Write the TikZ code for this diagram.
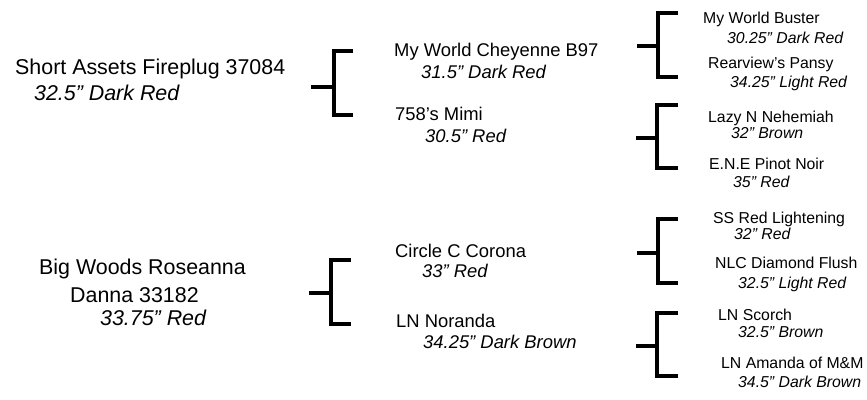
\documentclass[tikz,border=0pt]{standalone}
\usepackage{fontspec}
\setmainfont{Liberation Sans}
\begin{document}
\begin{tikzpicture}[x=1pt,y=-1pt,
  g0/.style={anchor=base west,inner sep=0pt,font=\fontsize{21.4}{26}\selectfont},
  g1/.style={anchor=base west,inner sep=0pt,font=\fontsize{18.4}{22}\selectfont},
  g2/.style={anchor=base west,inner sep=0pt,font=\fontsize{15.8}{19}\selectfont},
  br/.style={line width=3.4pt}]
  \useasboundingbox (0,0) rectangle (867,399);
  % sire side
  \node[g0](sa) at (15,74){Short Assets Fireplug 37084};
  \node[g0](sac) at (34,100){\itshape 32.5” Dark Red};
  \node[g1](mwc) at (394,56){My World Cheyenne B97};
  \node[g1](mwcc) at (421,78){\itshape 31.5” Dark Red};
  \node[g1](mm) at (395,120){758’s Mimi};
  \node[g1](mmc) at (425,142){\itshape 30.5” Red};
  \node[g2](mwb) at (703,23){My World Buster};
  \node[g2](mwbc) at (727,43){\itshape 30.25” Dark Red};
  \node[g2](rp) at (708,68){Rearview’s Pansy};
  \node[g2](rpc) at (730,87){\itshape 34.25” Light Red};
  \node[g2](ln) at (708,122){Lazy N Nehemiah};
  \node[g2](lnc) at (731,138){\itshape 32” Brown};
  \node[g2](ene) at (709,169){E.N.E Pinot Noir};
  \node[g2](enec) at (733,187){\itshape 35” Red};
  % dam side
  \node[g0](bw) at (39,274){Big Woods Roseanna};
  \node[g0](bwd) at (70,302){Danna 33182};
  \node[g0](bwc) at (100,325){\itshape 33.75” Red};
  \node[g1](cc) at (395,257){Circle C Corona};
  \node[g1](ccc) at (422,277){\itshape 33” Red};
  \node[g1](lno) at (396,327){LN Noranda};
  \node[g1](lnoc) at (423,348){\itshape 34.25” Dark Brown};
  \node[g2](ss) at (713,223){SS Red Lightening};
  \node[g2](ssc) at (734,239){\itshape 32” Red};
  \node[g2](nlc) at (715,268){NLC Diamond Flush};
  \node[g2](nlcc) at (738,288){\itshape 32.5” Light Red};
  \node[g2](lns) at (718,320){LN Scorch};
  \node[g2](lnsc) at (738,337){\itshape 32.5” Brown};
  \node[g2](lna) at (721,368){LN Amanda of M\&M};
  \node[g2](lnac) at (738,387){\itshape 34.5” Dark Brown};
  % brackets
  \foreach \i/\vx/\sy/\ty/\by/\sl/\ar in {1/334/87/51/115/311/353, 2/331/293/260/324/309/351,
      3/658/46/13/77/637/678, 4/657/138/105/168/636/678,
      5/658/253/219/283/637/678, 6/657/346/313/376/636/678}{
    \coordinate(s\i) at (\sl,\sy);
    \coordinate(m\i) at (\vx,\sy);
    \coordinate(t\i) at (\ar,\ty);
    \coordinate(b\i) at (\ar,\by);
    \draw[br](s\i)--(m\i);
    \draw[br](t\i)-|(m\i)|-(b\i);
  }
\end{tikzpicture}
\end{document}
